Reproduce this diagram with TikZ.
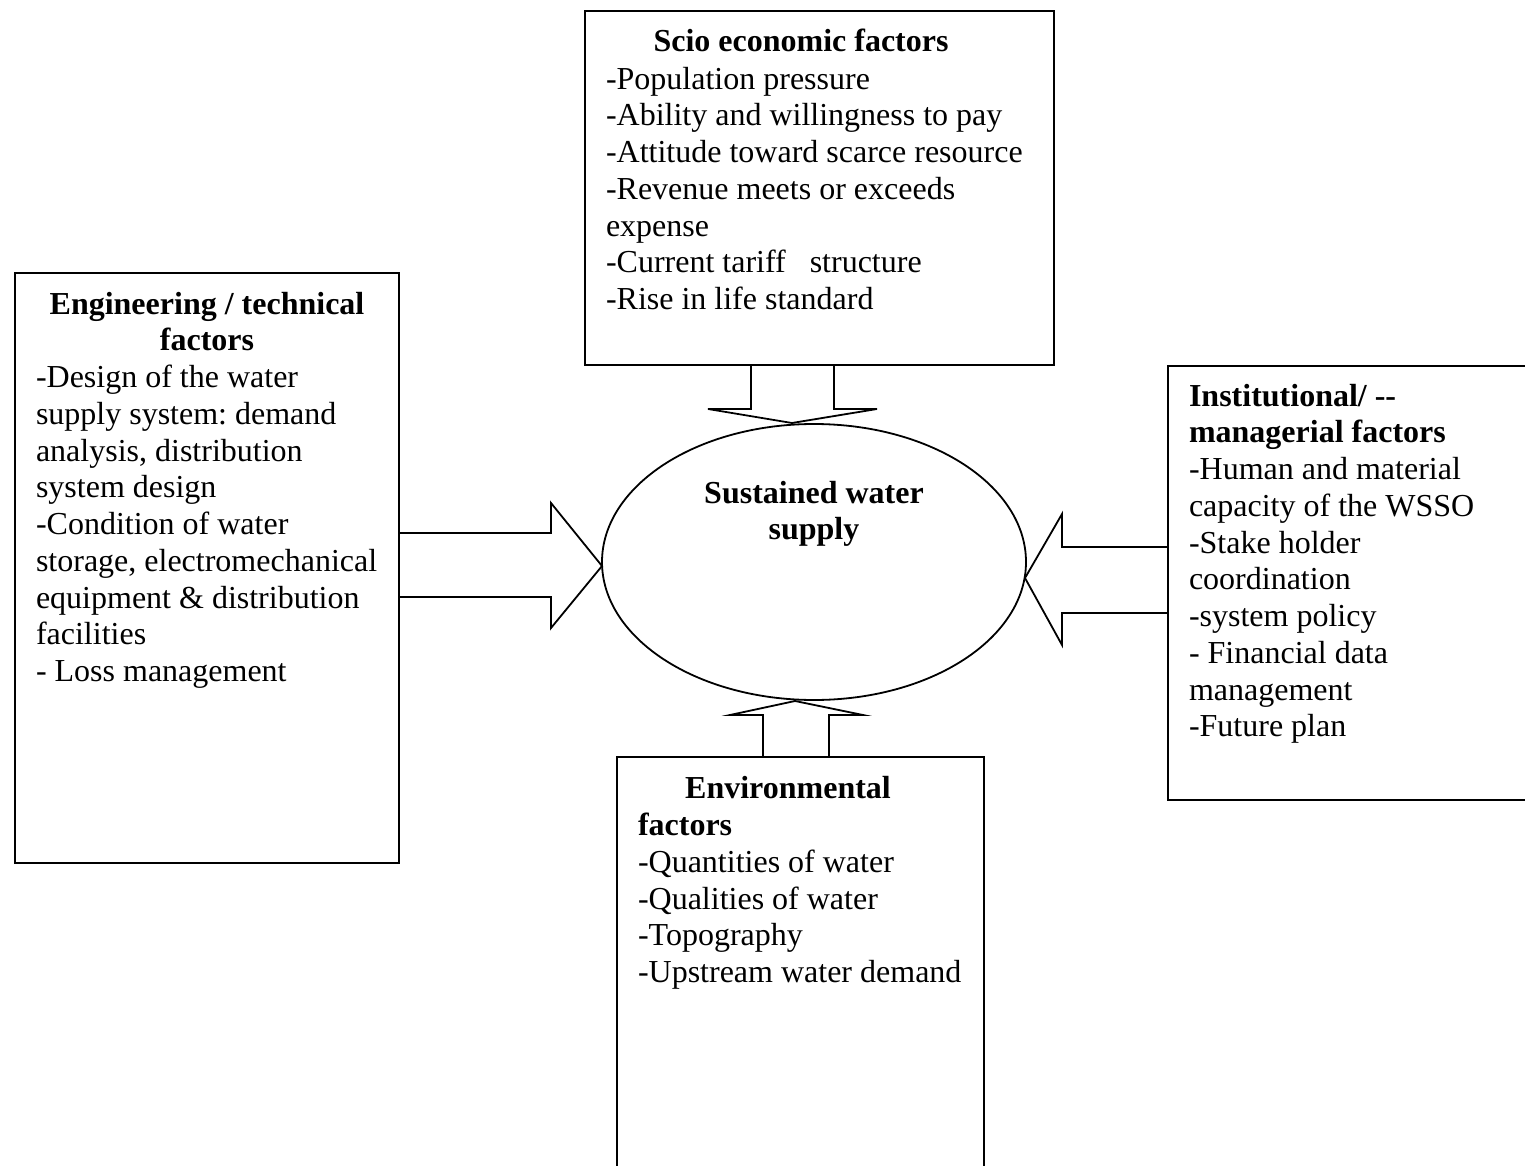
\documentclass[tikz,border=0pt]{standalone}
\usepackage{fontspec}
\setmainfont{Liberation Serif}
\usetikzlibrary{shapes.geometric}
\frenchspacing
\begin{document}
\begin{tikzpicture}[x=0.5pt,y=-0.5pt,
  boxline/.style={draw=black,line width=1pt},
  arrowline/.style={draw=black,line width=0.9pt,line join=miter},
  txt/.style={inner sep=0pt,outer sep=0pt,font=\fontsize{16}{18.375}\selectfont},
  items/.style={txt,align=left,anchor=north west},
  ttl/.style={txt,font=\fontsize{16}{18.375}\selectfont\bfseries}]
\clip (0,0) rectangle (1525,1166);
\fill[white] (0,0) rectangle (1525,1166);
% boxes
\draw[boxline] (585,11) rectangle (1054,365);
\draw[boxline] (15,273) rectangle (399,863);
\draw[boxline] (1168,366) rectangle (1545,800);
\draw[boxline] (617,1190) -- (617,757) -- (984,757) -- (984,1190);
% ellipse
\node[ellipse,draw=black,line width=0.9pt,minimum width=212pt,minimum height=138pt,inner sep=0pt] (ell) at (814,562) {};
% arrows
\draw[arrowline] (399,533) -- (551,533) -- (551,503) -- (602,566) -- (551,628) -- (551,597) -- (399,597);
\draw[arrowline] (1168,547) -- (1062,547) -- (1062,514) -- (1025,578) -- (1062,645) -- (1062,613) -- (1168,613);
\draw[arrowline] (751,365) -- (751,409) -- (708,409) -- (792,423) -- (877,409) -- (834,409) -- (834,365);
\draw[arrowline] (763,757) -- (763,715) -- (730,715) -- (795,701) -- (863,715) -- (829,715) -- (829,757);
% texts
\node[ttl,anchor=base] (t1) at (801,52) {Scio economic factors};
\node[items] (i1) at (606,67) {-Population pressure\\-Ability and willingness to pay\\-Attitude toward scarce resource\\-Revenue meets or exceeds\\expense\\-Current tariff\ \ \ structure\\-Rise in life standard};
\node[ttl,align=center,anchor=north] (t2) at (207,292) {Engineering / technical\\factors};
\node[items] (i2) at (36,365) {-Design of the water\\supply system: demand\\analysis, distribution\\system design\\-Condition of water\\storage, electromechanical\\equipment \& distribution\\facilities\\- Loss management};
\node[items] (i3) at (1189,384) {\textbf{Institutional/ -{}-}\\\textbf{managerial factors}\\-Human and material\\capacity of the WSSO\\-Stake holder\\coordination\\-system policy\\- Financial data\\management\\-Future plan};
\node[ttl,anchor=base] (t4) at (788,798) {Environmental};
\node[items] (i4) at (638,813) {\textbf{factors}\\-Quantities of water\\-Qualities of water\\-Topography\\-Upstream water demand};
\node[ttl,align=center,anchor=north] (t5) at (814,481) {Sustained water\\supply};
\end{tikzpicture}
\end{document}
